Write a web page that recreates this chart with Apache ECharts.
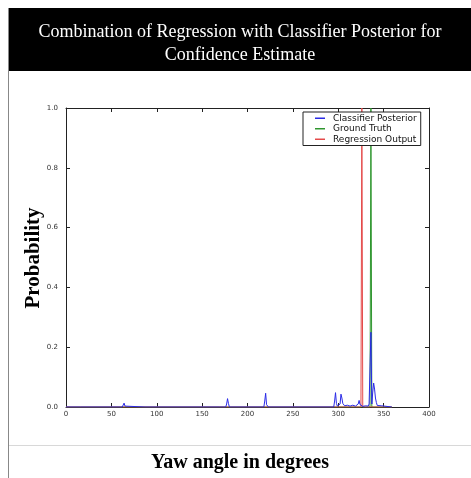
<!DOCTYPE html>
<html>
<head>
<meta charset="utf-8">
<script src="https://cdn.jsdelivr.net/npm/echarts@6/dist/echarts.min.js"></script>
<style>
html,body{margin:0;padding:0;background:#fff;}
#c{width:471px;height:478px;}
</style>
</head>
<body>
<div id="c"></div>
<script>
// ---- data ----
var titleLines = ['Combination of Regression with Classifier Posterior for', 'Confidence Estimate'];
var xAxisTitle = 'Yaw angle in degrees';
var yAxisTitle = 'Probability';
var seriesNames = ['Classifier Posterior', 'Ground Truth', 'Regression Output'];

var posteriorAngles = [0, 16, 17, 18, 21, 22, 23, 62, 64, 65, 66, 87, 88, 89, 169, 170, 171,
  176, 177, 178, 179, 180, 218, 219, 220, 221, 222, 223,
  295, 296, 297, 298, 299, 300, 302, 303, 304, 305, 306, 307, 308, 309, 310, 311, 312, 313,
  314, 315, 316, 317, 318, 319, 320, 321, 322, 323, 324, 325, 326, 327, 328, 329, 330, 331,
  332, 333, 334, 335, 336, 337, 338, 339, 340, 341, 342, 343, 344, 345, 348, 349, 359];
var posteriorValues = [0, 0, 0.004, 0, 0, 0.004, 0, 0, 0.013, 0.003, 0, 0, 0.004, 0, 0, 0.004, 0,
  0, 0.01, 0.028, 0.012, 0, 0, 0.02, 0.046, 0.008, 0.004, 0,
  0, 0.02, 0.048, 0.012, 0.003, 0, 0.01, 0.043, 0.03, 0.012, 0.015, 0.004, 0.008, 0.004, 0.006, 0.002, 0.007, 0.003,
  0.005, 0.002, 0.006, 0.004, 0.008, 0.003, 0.006, 0.004, 0.01, 0.022, 0.008, 0.002, 0.004, 0.002, 0.003, 0, 0.004, 0.006,
  0.002, 0.003, 0.01, 0.004, 0.25, 0.01, 0.05, 0.08, 0.06, 0.03, 0.015, 0.005, 0.002, 0, 0.004, 0, 0];

var truthAngles = [0, 335, 336, 337, 359];
var truthValues = [0, 0, 1, 0, 0];

var regressionAngles = [0, 325, 326, 327, 359];
var regressionValues = [0, 0, 1, 0, 0];

var xTicks = {min: 0, max: 400, interval: 50};
var yTicks = {min: 0, max: 1, interval: 0.2};

function zip(a, b) { return a.map(function (v, i) { return [v, b[i]]; }); }

var chart = echarts.init(document.getElementById('c'), null, {renderer: 'canvas'});

var tickFont = {fontFamily: 'DejaVu Sans', fontSize: 7, color: '#333'};
var axLine = {show: true, onZero: false, lineStyle: {color: '#222', width: 1}};
var axTick = {show: true, inside: true, length: 4, lineStyle: {color: '#222'}};
var colors = ['#2a2ae6', '#2f962f', '#e44a4a'];

var option = {
  animation: false,
  backgroundColor: '#fff',
  grid: {left: 66, right: 42, top: 108, bottom: 71, show: false},
  xAxis: [{
    type: 'value', position: 'bottom', min: xTicks.min, max: xTicks.max, interval: xTicks.interval,
    axisLine: axLine, splitLine: {show: false}, axisTick: axTick,
    axisLabel: Object.assign({margin: 4}, tickFont)
  }, {
    type: 'value', position: 'top', min: xTicks.min, max: xTicks.max, interval: xTicks.interval,
    axisLine: axLine, splitLine: {show: false}, axisTick: axTick,
    axisLabel: {show: false}
  }],
  yAxis: [{
    type: 'value', position: 'left', min: yTicks.min, max: yTicks.max, interval: yTicks.interval,
    axisLine: axLine, splitLine: {show: false}, axisTick: axTick,
    axisLabel: Object.assign({margin: 8, formatter: function (v) { return v.toFixed(1); }}, tickFont)
  }, {
    type: 'value', position: 'right', min: yTicks.min, max: yTicks.max, interval: yTicks.interval,
    axisLine: axLine, splitLine: {show: false}, axisTick: axTick,
    axisLabel: {show: false}
  }],
  legend: {
    orient: 'vertical', left: 303, top: 112,
    padding: [1, 4, 1, 12], itemGap: 0, itemWidth: 10, itemHeight: 1.5,
    icon: 'rect',
    borderColor: '#222', borderWidth: 1, backgroundColor: '#fff', borderRadius: 0,
    textStyle: {fontFamily: 'DejaVu Sans', fontSize: 9, color: '#111', lineHeight: 10.5, padding: [0, 0, 0, 3]},
    data: seriesNames.map(function (n, i) { return {name: n, itemStyle: {color: colors[i]}}; })
  },
  series: [{
    name: seriesNames[0], type: 'line', data: zip(posteriorAngles, posteriorValues),
    symbol: 'none', lineStyle: {color: colors[0], width: 1}, itemStyle: {color: colors[0]}, z: 3
  }, {
    name: seriesNames[1], type: 'line', data: zip(truthAngles, truthValues),
    symbol: 'none', lineStyle: {color: colors[1], width: 1}, itemStyle: {color: colors[1]}, z: 2
  }, {
    name: seriesNames[2], type: 'line', data: zip(regressionAngles, regressionValues),
    symbol: 'none', lineStyle: {color: colors[2], width: 1}, itemStyle: {color: colors[2]}, z: 2
  }],
  graphic: [
    {type: 'line', shape: {x1: 8.5, y1: 8, x2: 8.5, y2: 478}, style: {stroke: '#888', lineWidth: 1}, z: 10},
    {type: 'rect', shape: {x: 8, y: 8, width: 463, height: 63}, style: {fill: '#000'}, z: 9},
    {type: 'text', x: 240, y: 32, style: {text: titleLines[0], fill: '#fff', font: '18px "Liberation Serif"', align: 'center', verticalAlign: 'middle'}, z: 11},
    {type: 'text', x: 240, y: 55, style: {text: titleLines[1], fill: '#fff', font: '18px "Liberation Serif"', align: 'center', verticalAlign: 'middle'}, z: 11},
    {type: 'line', shape: {x1: 9, y1: 445.5, x2: 471, y2: 445.5}, style: {stroke: '#d8d8d8', lineWidth: 1}, z: 10},
    {type: 'text', x: 240, y: 463, style: {text: xAxisTitle, fill: '#000', font: 'bold 20px "Liberation Serif"', align: 'center', verticalAlign: 'middle'}, z: 11},
    {type: 'text', x: 34, y: 258, rotation: Math.PI / 2, style: {text: yAxisTitle, fill: '#000', font: 'bold 21px "Liberation Serif"', align: 'center', verticalAlign: 'middle'}, z: 11}
  ]
};
chart.setOption(option);
</script>
</body>
</html>
